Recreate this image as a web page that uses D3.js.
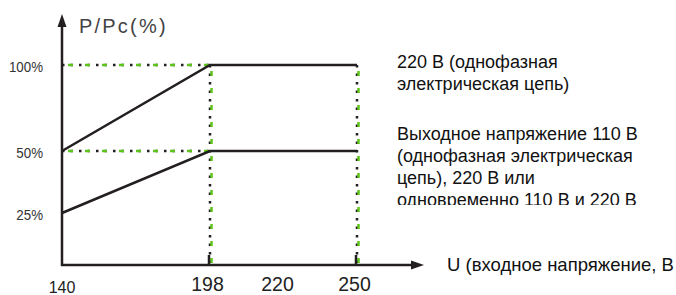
<!DOCTYPE html>
<html>
<head>
<meta charset="utf-8">
<script src="https://cdn.jsdelivr.net/npm/d3@7/dist/d3.min.js"></script>
<style>
  html, body { margin: 0; padding: 0; background: #fff; }
  svg { display: block; }
</style>
</head>
<body>
<svg id="chart" width="676" height="295"></svg>
<script>
// ---- data ----
const xTickValues = [140, 198, 220, 250];
const yTickValues = [25, 50, 100];
const yTickLabels = ["25%", "50%", "100%"];
const upperSeries = [[140, 50], [198, 100], [250, 100]];
const lowerSeries = [[140, 25], [198, 50], [250, 50]];
const guideX = [198, 250];
const guideY = [50, 100];
const yTitle = "P/Pc(%)";
const xTitle = "U (входное напряжение, В";
const note1 = ["220 В (однофазная", "электрическая цепь)"];
const note2 = ["Выходное напряжение 110 В", "(однофазная электрическая", "цепь), 220 В или", "одновременно 110 В и 220 В"];

// ---- scales (schematic, piecewise) ----
const x = d3.scaleLinear().domain([140, 198, 220, 250]).range([62, 210, 280, 357]);
const y = d3.scaleLinear().domain([0, 25, 50, 100]).range([265, 213, 151, 65]);

const svg = d3.select("#chart");
const ink = "#231f20";
const green = "#5cc41a";
const sans = "'Liberation Sans', Arial, sans-serif";

const defs = svg.append("defs");
defs.append("clipPath").attr("id", "noteClip")
  .append("rect").attr("x", 380).attr("y", 40).attr("width", 296).attr("height", 165);

// ---- guide lines (black dots + green dashes) ----
const g = svg.append("g");
function guide(x1, y1, x2, y2, gdx, gdy) {
  g.append("line").attr("x1", x1).attr("y1", y1).attr("x2", x2).attr("y2", y2)
    .attr("stroke", ink).attr("stroke-width", 2.5).attr("stroke-dasharray", "2.5,6");
  g.append("line").attr("x1", x1 + gdx).attr("y1", y1 + gdy).attr("x2", x2 + gdx).attr("y2", y2 + gdy)
    .attr("stroke", green).attr("stroke-width", 2.5).attr("stroke-dasharray", "5,12").attr("stroke-dashoffset", -6);
}
guideY.forEach(v => guide(x(140), y(v), x(198), y(v), 0, 0));
guideX.forEach(v => guide(x(v), y(100), x(v), y(0), 1.5, 0));

// ---- series lines ----
const line = d3.line().x(d => x(d[0])).y(d => y(d[1]));
[upperSeries, lowerSeries].forEach(s => {
  svg.append("path").attr("d", line(s)).attr("fill", "none")
    .attr("stroke", ink).attr("stroke-width", 2.5).attr("stroke-linejoin", "miter");
});

// ---- axes ----
svg.append("line").attr("x1", x(140)).attr("y1", y(0) + 1).attr("x2", x(140)).attr("y2", 24)
  .attr("stroke", ink).attr("stroke-width", 2.5);
svg.append("path").attr("d", `M${x(140)},14 L${x(140) - 4.5},27 L${x(140) + 4.5},27 Z`).attr("fill", ink);
svg.append("line").attr("x1", x(140) - 1).attr("y1", y(0)).attr("x2", 414).attr("y2", y(0))
  .attr("stroke", ink).attr("stroke-width", 2.5);
svg.append("path").attr("d", `M424,${y(0)} L411,${y(0) - 4.5} L411,${y(0) + 4.5} Z`).attr("fill", ink);

// small ticks at guide positions
guideX.forEach(v => {
  svg.append("line").attr("x1", x(v) - 1).attr("x2", x(v) - 1).attr("y1", y(0) - 10).attr("y2", y(0))
    .attr("stroke", ink).attr("stroke-width", 2.5);
});

// y tick labels via axis (condensed look)
const yAxis = d3.axisLeft(y).tickValues(yTickValues).tickSize(0).tickPadding(0)
  .tickFormat((d, i) => yTickLabels[i]);
const ya = svg.append("g").attr("transform", "translate(43,0)").call(yAxis);
ya.select(".domain").remove();
ya.selectAll("text").attr("font-family", sans).attr("font-size", 15.5).attr("fill", "#333")
  .attr("dy", "0.4em").attr("transform", "scale(0.86,1)");

// x tick labels via axis
const xAxis = d3.axisBottom(x).tickValues(xTickValues).tickSize(0).tickPadding(0).tickFormat(d3.format("d"));
const xa = svg.append("g").attr("transform", "translate(-3,0)").call(xAxis);
xa.select(".domain").remove();
xa.selectAll(".tick").each(function(d) {
  const t = d3.select(this).select("text");
  if (d === 140) {
    d3.select(this).attr("transform", `translate(${x(d) + 3},0)`);
    t.attr("y", 293).attr("dy", 0).attr("font-size", 16);
  } else {
    t.attr("y", 291).attr("dy", 0).attr("font-size", 19.5);
  }
  t.attr("font-family", sans).attr("fill", "#222");
});

// ---- titles ----
svg.append("text").attr("x", 79).attr("y", 33).attr("font-family", sans).attr("font-size", 20)
  .attr("fill", "#444").attr("letter-spacing", 2.2).text(yTitle);
svg.append("text").attr("x", 447).attr("y", 271).attr("font-family", sans).attr("font-size", 18.5)
  .attr("fill", "#111").text(xTitle);

// ---- notes ----
const notes = svg.append("g").attr("clip-path", "url(#noteClip)")
  .attr("font-family", sans).attr("font-size", 18).attr("fill", "#111");
note1.forEach((t, i) => notes.append("text").attr("x", 397).attr("y", 68 + i * 22).text(t));
note2.forEach((t, i) => notes.append("text").attr("x", 397).attr("y", 140 + i * 22).text(t));
</script>
</body>
</html>
